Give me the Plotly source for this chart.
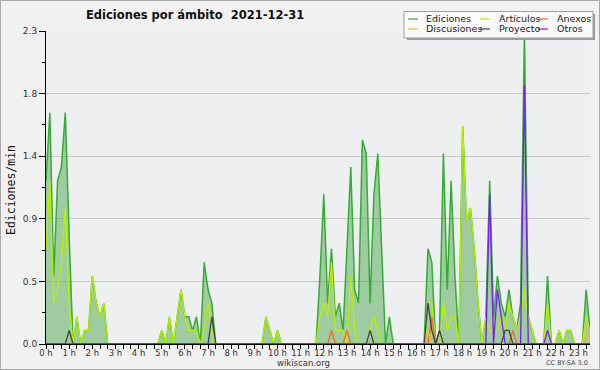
import plotly.graph_objects as go

# ---------------- data (10-minute slots, edits per minute) ----------------
slot_minutes = list(range(0, 1420, 10))  # 00:00 .. 23:30

hour_ticks = list(range(24))
hour_labels = ["0 h", "1 h", "2 h", "3 h", "4 h", "5 h", "6 h", "7 h", "8 h", "9 h",
               "10 h", "11 h", "12 h", "13 h", "14 h", "15 h", "16 h", "17 h", "18 h",
               "19 h", "20 h", "21 h", "22 h", "23 h"]

y_tickvals = [0, 0.46, 0.92, 1.38, 1.84, 2.3]
y_ticktext = ["0.0", "0.5", "0.9", "1.4", "1.8", "2.3"]
y_minor = [0.23, 0.69, 1.15, 1.61, 2.07]

ediciones = [
    1.2, 1.7, 0.5, 1.2, 1.3, 1.7, 0.8, 0, 0.2, 0, 0.1, 0.1,
    0.5, 0.3, 0.2, 0.3, 0, 0, 0, 0, 0, 0, 0, 0,
    0, 0, 0, 0, 0, 0, 0.1, 0, 0.2, 0, 0.2, 0.4,
    0.2, 0.2, 0.1, 0.2, 0, 0.6, 0.4, 0.3, 0, 0, 0, 0,
    0, 0, 0, 0, 0, 0, 0, 0, 0, 0.2, 0.1, 0,
    0.1, 0, 0, 0, 0, 0, 0, 0, 0, 0, 0, 0.5,
    1.1, 0.3, 0.7, 0.2, 0.3, 0.1, 0.7, 1.3, 0.4, 0.3, 1.5, 1.4,
    0.3, 1.1, 1.4, 0.7, 0, 0.2, 0, 0, 0, 0, 0, 0,
    0, 0, 0, 0.7, 0.6, 0, 0.1, 1.4, 0.4, 1.2, 0.5, 0,
    1.6, 0.9, 1.0, 0.7, 0.3, 0, 0.2, 1.2, 0.2, 0.5, 0.3, 0.2,
    0.4, 0.2, 0.1, 0.3, 2.3, 0.2, 0.1, 0, 0, 0, 0.5, 0,
    0, 0.1, 0, 0.1, 0.1, 0, 0, 0, 0.4, 0.1,
]
articulos = [
    0.7, 1.2, 0.3, 0.4, 0.6, 1.0, 0.3, 0, 0.2, 0, 0.1, 0.1,
    0.5, 0.3, 0.2, 0.3, 0, 0, 0, 0, 0, 0, 0, 0,
    0, 0, 0, 0, 0, 0, 0.1, 0, 0.2, 0, 0.2, 0.4,
    0.2, 0.1, 0.1, 0.1, 0, 0.1, 0.3, 0.1, 0, 0, 0, 0,
    0, 0, 0, 0, 0, 0, 0, 0, 0, 0.2, 0.1, 0,
    0.1, 0, 0, 0, 0, 0, 0, 0, 0, 0, 0, 0.2,
    0.3, 0.2, 0.6, 0.1, 0.1, 0.1, 0, 0.5, 0.1, 0, 0, 0,
    0.1, 0.2, 0.1, 0, 0, 0, 0, 0, 0, 0, 0, 0,
    0, 0, 0, 0.3, 0.3, 0, 0, 0.3, 0.1, 0.2, 0.2, 0,
    1.6, 0.9, 1.0, 0.7, 0.3, 0, 0.2, 0.1, 0.1, 0.1, 0.2, 0.1,
    0.3, 0.2, 0.1, 0.2, 0.4, 0.2, 0.1, 0, 0, 0, 0.3, 0,
    0, 0.1, 0, 0.1, 0.1, 0, 0, 0, 0.2, 0.1,
]
anexos = [
    0, 0, 0, 0, 0, 0, 0, 0, 0, 0, 0, 0,
    0, 0, 0, 0, 0, 0, 0, 0, 0, 0, 0, 0,
    0, 0, 0, 0, 0, 0, 0, 0, 0, 0, 0, 0,
    0, 0, 0, 0, 0, 0, 0, 0, 0, 0, 0, 0,
    0, 0, 0, 0, 0, 0, 0, 0, 0, 0, 0, 0,
    0, 0, 0, 0, 0, 0, 0, 0, 0, 0, 0, 0,
    0, 0, 0.1, 0, 0, 0, 0.1, 0, 0, 0, 0, 0,
    0, 0, 0, 0, 0, 0, 0, 0, 0, 0, 0, 0,
    0, 0, 0, 0, 0.2, 0, 0, 0, 0, 0, 0, 0,
    0, 0, 0, 0, 0, 0, 0, 0, 0, 0, 0, 0,
    0, 0.1, 0, 0, 0, 0, 0, 0, 0, 0, 0, 0,
    0, 0, 0, 0, 0, 0, 0, 0, 0, 0,
]
discusiones = [
    0, 0, 0, 0, 0, 0, 0, 0, 0, 0, 0, 0,
    0, 0, 0, 0, 0, 0, 0, 0, 0, 0, 0, 0,
    0, 0, 0, 0, 0, 0, 0, 0, 0, 0, 0, 0,
    0, 0, 0, 0, 0, 0, 0, 0, 0, 0, 0, 0,
    0, 0, 0, 0, 0, 0, 0, 0, 0, 0, 0, 0,
    0, 0, 0, 0, 0, 0, 0, 0, 0, 0, 0, 0,
    0, 0, 0, 0, 0, 0, 0, 0, 0, 0, 0, 0,
    0, 0, 0, 0, 0, 0, 0, 0, 0, 0, 0, 0,
    0, 0, 0, 0.1, 0, 0, 0, 0, 0, 0, 0, 0,
    0, 0, 0, 0, 0, 0, 0, 0, 0, 0, 0, 0,
    0, 0, 0, 0, 0, 0, 0, 0, 0, 0, 0, 0,
    0, 0, 0, 0, 0, 0, 0, 0, 0.1, 0,
]
proyecto = [
    0, 0, 0, 0, 0, 0, 0.1, 0, 0, 0, 0, 0,
    0, 0, 0, 0, 0, 0, 0, 0, 0, 0, 0, 0,
    0, 0, 0, 0, 0, 0, 0, 0, 0, 0, 0, 0,
    0, 0, 0, 0, 0, 0, 0, 0.2, 0, 0, 0, 0,
    0, 0, 0, 0, 0, 0, 0, 0, 0, 0, 0, 0,
    0, 0, 0, 0, 0, 0, 0, 0, 0, 0, 0, 0,
    0, 0, 0, 0, 0, 0, 0, 0, 0, 0, 0, 0,
    0.1, 0, 0, 0, 0, 0, 0, 0, 0, 0, 0, 0,
    0, 0, 0, 0.3, 0.1, 0, 0.1, 0, 0, 0, 0, 0,
    0, 0, 0, 0, 0, 0, 0, 0, 0, 0, 0, 0.1,
    0.1, 0, 0, 0, 0, 0, 0, 0, 0, 0, 0, 0,
    0, 0, 0, 0, 0, 0, 0, 0, 0, 0,
]
otros = [
    0, 0, 0, 0, 0, 0, 0, 0, 0, 0, 0, 0,
    0, 0, 0, 0, 0, 0, 0, 0, 0, 0, 0, 0,
    0, 0, 0, 0, 0, 0, 0, 0, 0, 0, 0, 0,
    0, 0, 0, 0, 0, 0, 0, 0, 0, 0, 0, 0,
    0, 0, 0, 0, 0, 0, 0, 0, 0, 0, 0, 0,
    0, 0, 0, 0, 0, 0, 0, 0, 0, 0, 0, 0,
    0, 0, 0, 0, 0, 0, 0, 0, 0, 0, 0, 0,
    0, 0, 0, 0, 0, 0, 0, 0, 0, 0, 0, 0,
    0, 0, 0, 0, 0, 0, 0, 0, 0, 0, 0, 0,
    0, 0, 0, 0, 0, 0, 0, 1.1, 0, 0.4, 0.2, 0,
    0, 0, 0, 0, 1.9, 0, 0, 0, 0, 0, 0.1, 0,
    0, 0, 0, 0, 0, 0, 0, 0, 0, 0,
]

series_names = ["Ediciones", "Artículos", "Anexos", "Discusiones", "Proyecto", "Otros"]
series_colors = ["#35ad35", "#b8f000", "#f26a22", "#f5c21b", "#404040", "#7a1ef0"]
series_values = [ediciones, articulos, anexos, discusiones, proyecto, otros]

# ---------------- layout geometry ----------------
W, H = 600, 370
L, R, T, B = 46, 10, 31, 26
PW, PH = W - L - R, H - T - B


def fx(p):
    return (p - L) / PW


def fy(p):
    return (H - B - p) / PH


x_hours = [m / 60 for m in slot_minutes]

fig = go.Figure()
for name, color, vals in zip(series_names, series_colors, series_values):
    if name == "Ediciones":
        fig.add_trace(go.Scatter(
            x=x_hours, y=vals, mode="lines", name=name,
            line=dict(color=color, width=1.5),
            fill="tozeroy", fillcolor="rgba(62,160,62,0.45)",
            showlegend=False, hoverinfo="skip"))
    else:
        fig.add_trace(go.Scatter(
            x=x_hours, y=vals, mode="lines", name=name,
            line=dict(color=color, width=1.3),
            showlegend=False, hoverinfo="skip"))

minor_x = [h / 3 for h in range(0, 71) if h % 3 != 0]

fig.update_layout(
    width=W, height=H,
    margin=dict(l=L, r=R, t=T, b=B),
    paper_bgcolor="#f1f1f1",
    plot_bgcolor="#eeeff1",
    showlegend=False,
    xaxis=dict(
        range=[0, slot_minutes[-1] / 60],
        tickmode="array", tickvals=hour_ticks, ticktext=hour_labels,
        ticks="outside", ticklen=4, tickcolor="black", tickwidth=1,
        ticklabelstandoff=-3,
        minor=dict(tickmode="array", tickvals=minor_x, ticks="outside",
                   ticklen=4, tickcolor="black", tickwidth=1),
        showline=True, linecolor="black", linewidth=1,
        showgrid=False, zeroline=False,
        tickfont=dict(family="DejaVu Sans", size=8.5, color="#333333"),
        fixedrange=True,
    ),
    yaxis=dict(
        range=[0, 2.3],
        tickmode="array", tickvals=y_tickvals, ticktext=y_ticktext,
        ticks="outside", ticklen=6, tickcolor="black", tickwidth=1,
        minor=dict(tickmode="array", tickvals=y_minor, ticks="outside",
                   ticklen=3, tickcolor="black", tickwidth=1, showgrid=False),
        showline=True, linecolor="black", linewidth=1,
        showgrid=True, gridcolor="#c8c8c8", gridwidth=1,
        zeroline=False,
        tickfont=dict(family="DejaVu Sans", size=9, color="#333333"),
        fixedrange=True,
    ),
)

annotations = [
    dict(text="<b>Ediciones por ámbito  2021-12-31</b>", x=fx(84), y=fy(15),
         xanchor="left", yanchor="middle",
         font=dict(family="DejaVu Sans", size=11.5, color="#111111")),
    dict(text="Ediciones/min", x=fx(11), y=fy(190), textangle=-90,
         xanchor="center", yanchor="middle",
         font=dict(family="DejaVu Sans Mono", size=11.5, color="#111111")),
    dict(text="wikiscan.org", x=fx(303), y=fy(363), xanchor="center", yanchor="middle",
         font=dict(family="DejaVu Sans", size=8.5, color="#333333")),
    dict(text="CC BY-SA 3.0", x=fx(590), y=fy(363), xanchor="right", yanchor="middle",
         font=dict(family="DejaVu Sans", size=6.5, color="#444444")),
]

shapes = [
    # outer frame
    dict(type="rect", xref="paper", yref="paper",
         x0=fx(0.5), x1=fx(W - 0.5), y0=fy(H - 0.5), y1=fy(0.5),
         line=dict(color="#a8a8a8", width=1), fillcolor="rgba(0,0,0,0)", layer="above"),
    # legend shadow and box
    dict(type="rect", xref="paper", yref="paper",
         x0=fx(407), x1=fx(595), y0=fy(40), y1=fy(14),
         line=dict(width=0), fillcolor="#9a9a9a", layer="above"),
    dict(type="rect", xref="paper", yref="paper",
         x0=fx(404), x1=fx(593), y0=fy(38), y1=fy(11.5),
         line=dict(color="#a0a0a0", width=1), fillcolor="#fafafa", layer="above"),
]

legend_cols = [(408, 424), (480, 497), (538, 555)]
legend_rows = [19, 29]
for k, (name, color) in enumerate(zip(series_names, series_colors)):
    r, c = divmod(k, 3)
    lx, tx = legend_cols[c]
    ly = legend_rows[r]
    shapes.append(dict(type="line", xref="paper", yref="paper",
                       x0=fx(lx), x1=fx(lx + 10), y0=fy(ly), y1=fy(ly),
                       line=dict(color=color, width=1.2), layer="above"))
    annotations.append(dict(text=name, x=fx(tx), y=fy(ly), xanchor="left",
                            yanchor="middle",
                            font=dict(family="DejaVu Sans", size=9.5, color="#222222")))

for a in annotations:
    a.update(xref="paper", yref="paper", showarrow=False)

fig.update_layout(annotations=annotations, shapes=shapes)

fig.write_html("out.html", config={"displayModeBar": False},
               post_script="document.body.style.margin='0';document.body.style.overflow='hidden';")
